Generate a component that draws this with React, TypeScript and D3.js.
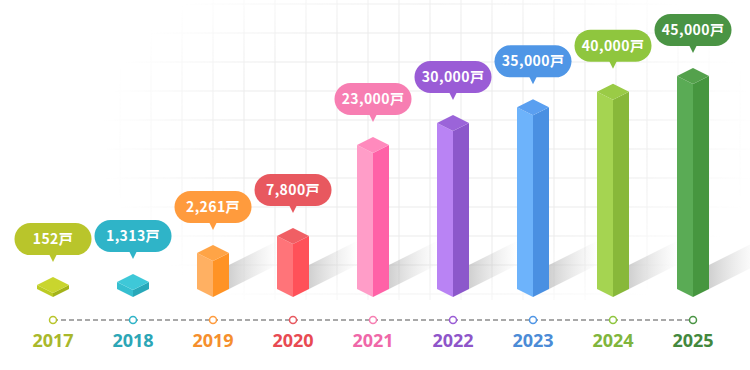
import { useEffect, useRef } from 'react';
import * as d3 from 'd3';

const years = ['2017', '2018', '2019', '2020', '2021', '2022', '2023', '2024', '2025'];
const households = [152, 1313, 2261, 7800, 23000, 30000, 35000, 40000, 45000];
const unit = '戸';

// left face, right face, top face, callout, year text
const palette = [
    { left: '#bccb24', right: '#a4b31a', top: '#c9d52e', tag: '#b9c52b', text: '#a9b82b' },
    { left: '#36bfd0', right: '#28a8b9', top: '#3ec8d8', tag: '#2fb4c8', text: '#2ca6b6' },
    { left: '#ffb062', right: '#ff9325', top: '#ffa446', tag: '#ff9b3d', text: '#f58f2d' },
    { left: '#ff7479', right: '#ff5159', top: '#f05f64', tag: '#e8585f', text: '#e84a52' },
    { left: '#ff9dc8', right: '#ff62a7', top: '#ff8abd', tag: '#f77eb2', text: '#ef67a8' },
    { left: '#b983f4', right: '#8c58cb', top: '#9b64d9', tag: '#9a5cd6', text: '#8e55c9' },
    { left: '#6db3fb', right: '#4a90e2', top: '#5a9ff0', tag: '#4f96e6', text: '#4b8bd6' },
    { left: '#a5d451', right: '#88b83a', top: '#9acb46', tag: '#8fc63e', text: '#80b53c' },
    { left: '#5aab55', right: '#46963f', top: '#54a14c', tag: '#4a9444', text: '#43883d' },
];

function App() {
    const ref = useRef<SVGSVGElement>(null);

    useEffect(() => {
        const svg = d3.select(ref.current);
        svg.selectAll('*').remove();

        const width = 750;
        const height = 370;
        const baseY = 297;
        const half = 16;
        const dy = 8;
        const lineY = 320;

        const x = d3.scalePoint<string>().domain(years).range([53, 693]);
        // infographic heights are not proportional, so the scale is piecewise
        const h = d3
            .scaleLinear()
            .domain([0, 1313, 2261, 7800, 23000, 45000])
            .range([3.5, 7, 36, 53, 144, 213]);

        const defs = svg.append('defs');

        const rg = defs
            .append('radialGradient')
            .attr('id', 'gridFade')
            .attr('gradientUnits', 'userSpaceOnUse')
            .attr('cx', 430)
            .attr('cy', 140)
            .attr('r', 330)
            .attr('gradientTransform', 'translate(430,140) scale(1,0.62) translate(-430,-140)');
        rg.append('stop').attr('offset', '0%').attr('stop-color', '#fff');
        rg.append('stop').attr('offset', '60%').attr('stop-color', '#fff');
        rg.append('stop').attr('offset', '100%').attr('stop-color', '#000');

        defs.append('mask')
            .attr('id', 'gridMask')
            .append('rect')
            .attr('width', width)
            .attr('height', height)
            .attr('fill', 'url(#gridFade)');

        const sg = defs
            .append('linearGradient')
            .attr('id', 'shadow')
            .attr('x1', '0%')
            .attr('x2', '100%')
            .attr('y1', '0%')
            .attr('y2', '0%');
        sg.append('stop').attr('offset', '0%').attr('stop-color', '#a0a0a0').attr('stop-opacity', 0.5);
        sg.append('stop').attr('offset', '100%').attr('stop-color', '#c0c0c0').attr('stop-opacity', 0);

        // background grid
        const grid = svg.append('g').attr('mask', 'url(#gridMask)');
        grid.selectAll('line.v')
            .data(d3.range(27, width, 31))
            .enter()
            .append('line')
            .attr('x1', (d) => d)
            .attr('x2', (d) => d)
            .attr('y1', 0)
            .attr('y2', 300)
            .attr('stroke', '#ebebeb')
            .attr('stroke-width', 1);
        grid.selectAll('line.h')
            .data(d3.range(4, 300, 29))
            .enter()
            .append('line')
            .attr('x1', 0)
            .attr('x2', width)
            .attr('y1', (d) => d)
            .attr('y2', (d) => d)
            .attr('stroke', '#ebebeb')
            .attr('stroke-width', 1);

        const items = years.map((year, i) => ({
            year,
            value: households[i],
            label: d3.format(',')(households[i]) + unit,
            c: palette[i],
        }));

        // shadows behind bars
        const L = 48;
        svg.append('g')
            .selectAll('path')
            .data(items.filter((d) => h(d.value) > 10))
            .enter()
            .append('path')
            .attr('d', (d) => {
                const cx = x(d.year) as number;
                const s = h(d.value);
                const sh = Math.min(s, 24);
                const x0 = cx + half;
                const y0 = baseY - dy;
                return `M${x0},${y0}L${x0},${y0 - sh}L${x0 + L},${y0 - sh - L * 0.5}L${x0 + L},${y0 - L * 0.5}Z`;
            })
            .attr('fill', 'url(#shadow)');

        // bars
        const bars = svg.append('g').selectAll('g').data(items).enter().append('g');

        bars.append('path')
            .attr('d', (d) => {
                const cx = x(d.year) as number;
                const s = h(d.value);
                return `M${cx - half},${baseY - dy - s}L${cx},${baseY - s}L${cx},${baseY}L${cx - half},${baseY - dy}Z`;
            })
            .attr('fill', (d) => d.c.left);

        bars.append('path')
            .attr('d', (d) => {
                const cx = x(d.year) as number;
                const s = h(d.value);
                return `M${cx},${baseY - s}L${cx + half},${baseY - dy - s}L${cx + half},${baseY - dy}L${cx},${baseY}Z`;
            })
            .attr('fill', (d) => d.c.right);

        bars.append('path')
            .attr('d', (d) => {
                const cx = x(d.year) as number;
                const s = h(d.value);
                return `M${cx},${baseY - 2 * dy - s}L${cx + half},${baseY - dy - s}L${cx},${baseY - s}L${cx - half},${baseY - dy - s}Z`;
            })
            .attr('fill', (d) => d.c.top);

        // callouts
        const tagW = 77;
        const tagH = 32;
        const tags = svg.append('g').selectAll('g').data(items).enter().append('g');

        tags.append('rect')
            .attr('x', (d) => (x(d.year) as number) - tagW / 2)
            .attr('y', (d) => baseY - 2 * dy - h(d.value) - 15 - 7 - tagH)
            .attr('width', tagW)
            .attr('height', tagH)
            .attr('rx', 16)
            .attr('fill', (d) => d.c.tag);

        tags.append('path')
            .attr('d', (d) => {
                const cx = x(d.year) as number;
                const tip = baseY - 2 * dy - h(d.value) - 15;
                return `M${cx - 4},${tip - 8}L${cx + 4},${tip - 8}L${cx},${tip}Z`;
            })
            .attr('fill', (d) => d.c.tag);

        tags.append('text')
            .attr('x', (d) => x(d.year) as number)
            .attr('y', (d) => baseY - 2 * dy - h(d.value) - 15 - 7 - tagH / 2 + 5)
            .attr('text-anchor', 'middle')
            .attr('fill', '#fff')
            .attr('font-family', '"Noto Sans CJK JP", "Open Sans", sans-serif')
            .attr('font-weight', 700)
            .attr('font-size', 14)
            .attr('letter-spacing', 0.4)
            .text((d) => d.label);

        // timeline
        svg.append('line')
            .attr('x1', x(years[0]) as number)
            .attr('x2', x(years[years.length - 1]) as number)
            .attr('y1', lineY)
            .attr('y2', lineY)
            .attr('stroke', '#8c8c8c')
            .attr('stroke-width', 1.5)
            .attr('stroke-dasharray', '5,3');

        svg.append('g')
            .selectAll('circle')
            .data(items)
            .enter()
            .append('circle')
            .attr('cx', (d) => x(d.year) as number)
            .attr('cy', lineY)
            .attr('r', 3.5)
            .attr('fill', '#fff')
            .attr('stroke', (d) => d.c.tag)
            .attr('stroke-width', 1.5);

        svg.append('g')
            .selectAll('text')
            .data(items)
            .enter()
            .append('text')
            .attr('x', (d) => x(d.year) as number)
            .attr('y', 347)
            .attr('text-anchor', 'middle')
            .attr('fill', (d) => d.c.text)
            .attr('font-family', '"Open Sans", sans-serif')
            .attr('font-weight', 700)
            .attr('font-size', 18)
            .text((d) => d.year);
    }, []);

    return (
        <svg
            ref={ref}
            width={750}
            height={370}
            style={{ position: 'absolute', left: 0, top: 0, background: '#fff' }}
        ></svg>
    );
}

export default App;
